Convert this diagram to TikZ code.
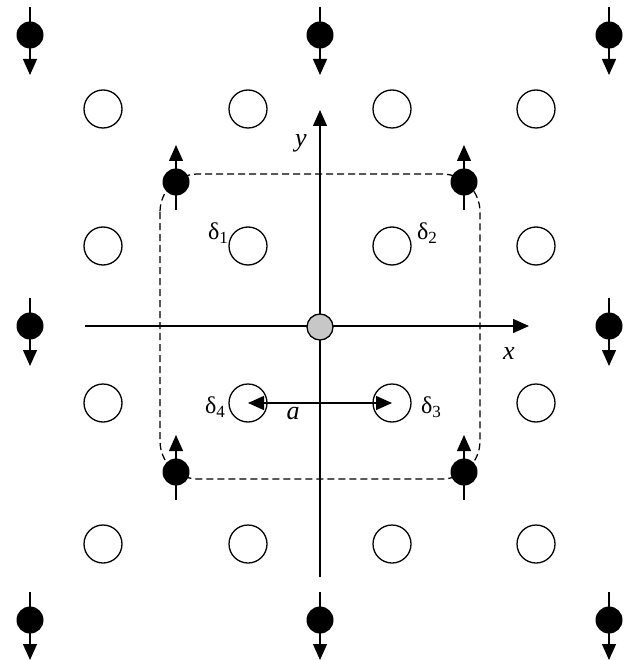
\documentclass[tikz,border=0pt]{standalone}
\usepackage{fontspec}
\setmainfont{Liberation Serif}
\usetikzlibrary{arrows.meta}
\begin{document}
\begin{tikzpicture}[x=1pt,y=-1pt,line width=1.3pt,
  tri/.tip={Triangle[length=16pt,width=14pt]},
  axis/.style={-tri},
  dbl/.style={tri-tri},
  spinline/.style={-tri},
  spindot/.style={circle,fill=black,minimum size=27pt,inner sep=0pt},
  site/.style={circle,draw,fill=white,minimum size=38pt,inner sep=0pt},
  origin/.style={circle,draw,fill=black!22,minimum size=26pt,inner sep=0pt},
  cell/.style={dash pattern=on 7pt off 4pt,rounded corners=38pt,line width=1.25pt},
  lbl/.style={font=\fontsize{26}{28}\selectfont},
  dlbl/.style={font=\fontsize{24}{26}\selectfont,inner sep=0pt}
]
\useasboundingbox (0,0) rectangle (630,660);

% dashed cell
\draw[cell] (160,174) rectangle (480,479);

% axes
\coordinate (xa) at (85,326);
\coordinate (xb) at (529,326);
\coordinate (ya) at (320,577);
\coordinate (yb) at (320,110);
\draw[axis] (xa) -- (xb);
\draw[axis] (ya) -- (yb);
\node[origin] (o) at (320,327) {};

% open sites
\foreach \r/\yy in {1/109,2/246,3/403,4/544}{
  \foreach \c/\xx in {1/103,2/248,3/392,4/536}{
    \node[site] (s\r\c) at (\xx,\yy) {};
  }
}

% spins down
\foreach \n/\xx/\yy in {a/30/35,b/320/35,c/609/35,d/30/326,e/609/326,f/30/620,g/320/620,h/609/620}{
  \coordinate (t\n) at (\xx,\yy-28);
  \coordinate (h\n) at (\xx,\yy+40);
  \draw[spinline] (t\n) -- (h\n);
  \node[spindot] (p\n) at (\xx,\yy) {};
}
% spins up
\foreach \n/\xx/\yy in {i/176/182,j/464/182,k/176/472,l/464/472}{
  \coordinate (t\n) at (\xx,\yy+28);
  \coordinate (h\n) at (\xx,\yy-37);
  \draw[spinline] (t\n) -- (h\n);
  \node[spindot] (p\n) at (\xx,\yy) {};
}

% lattice constant arrow
\draw[dbl] (s32.center) -- (s33.center);

% labels
\node[lbl] (lx) at (509,354) {\itshape x};
\node[lbl] (ly) at (301,143) {\itshape y};
\node[lbl] (la) at (293,414) {\itshape a};
\node[dlbl] (d1) at (218,233) {δ\raisebox{-0.35ex}{\fontsize{17}{17}\selectfont 1}};
\node[dlbl] (d2) at (427,233) {δ\raisebox{-0.35ex}{\fontsize{17}{17}\selectfont 2}};
\node[dlbl] (d3) at (431,407) {δ\raisebox{-0.35ex}{\fontsize{17}{17}\selectfont 3}};
\node[dlbl] (d4) at (215,407) {δ\raisebox{-0.35ex}{\fontsize{17}{17}\selectfont 4}};
\end{tikzpicture}
\end{document}
